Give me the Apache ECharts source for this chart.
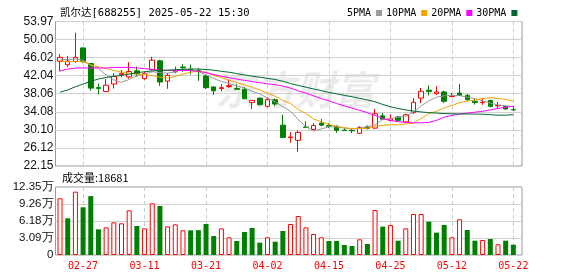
<!DOCTYPE html>
<html><head><meta charset="utf-8">
<script src="https://cdn.jsdelivr.net/npm/echarts@6/dist/echarts.min.js"></script>
<style>html,body{margin:0;padding:0;background:#fff}#c{width:578px;height:276px}</style>
</head><body><div id="c"></div>
<script>
// ---------- data ----------
const dates = ['02-24','02-25','02-26','02-27','02-28','03-03','03-04','03-05','03-06','03-07',
  '03-10','03-11','03-12','03-13','03-14','03-17','03-18','03-19','03-20','03-21',
  '03-24','03-25','03-26','03-27','03-28','03-31','04-01','04-02','04-03','04-07',
  '04-08','04-09','04-10','04-11','04-14','04-15','04-16','04-17','04-18','04-21',
  '04-22','04-23','04-24','04-25','04-28','04-29','04-30','05-06','05-07','05-08',
  '05-09','05-12','05-13','05-14','05-15','05-16','05-19','05-20','05-21','05-22'];
const openP  = [45.21,44.45,45.15,48.15,44.7,39.45,38.55,40.2,42.25,41.75,
  43.1,41.4,43.4,45.3,40.85,42.9,43.95,43.4,43.15,41.95,
  39.55,39.2,39.65,39.2,39.0,36.15,37.1,35.3,36.75,31.15,
  28.4,27.8,30.75,30.2,31.6,31.05,30.9,30.05,30.0,29.35,
  30.8,30.5,33.2,32.15,32.95,31.85,33.95,37.1,38.85,38.1,
  38.45,37.45,38.2,37.7,36.4,36.1,36.55,35.4,35.3,34.6];
const closeP = [46.09,45.25,46.08,45.1,39.3,39.2,39.95,41.85,42.55,42.95,
  42.45,42.55,45.45,40.65,42.1,43.1,43.8,43.2,43.0,39.4,
  38.7,39.4,39.85,39.05,36.95,36.6,35.65,36.75,35.8,28.45,
  28.55,29.55,30.65,31.05,31.15,30.9,30.0,29.95,29.9,30.65,
  30.4,33.65,32.45,32.5,32.2,33.45,36.2,38.6,38.55,38.45,
  36.4,37.65,37.7,36.75,36.15,36.2,35.3,35.5,34.7,34.5];
const lowP   = [42.99,43.95,44.85,44.9,38.75,37.9,38.5,39.2,41.7,41.4,
  41.8,41.15,43.15,39.8,39.15,42.6,42.9,42.3,40.9,39.1,
  37.8,38.6,39.35,38.95,36.9,34.7,35.5,35.05,35.3,28.4,
  27.3,25.3,30.6,30.15,30.9,30.5,29.45,29.9,29.4,29.2,
  30.2,30.3,32.35,32.0,32.05,31.6,33.6,36.0,37.7,37.85,
  36.0,37.25,37.7,36.55,35.65,35.6,35.05,34.75,34.6,34.2];
const highP  = [46.81,46.4,51.5,48.2,44.9,40.3,41.3,42.6,43.3,45.0,
  44.05,42.85,46.2,45.55,42.6,44.0,44.6,44.5,43.7,42.4,
  39.7,40.2,41.1,40.2,39.6,36.6,37.25,37.25,37.0,33.4,
  29.6,29.95,32.0,31.6,32.5,31.6,31.1,30.5,30.5,30.9,
  31.1,34.7,33.8,33.45,33.2,33.65,37.1,39.35,39.9,39.7,
  38.75,38.25,40.2,38.0,37.1,37.1,36.75,36.25,35.3,35.3];
const ma5  = [45.65,45.6,45.75,45.45,44.3,43.6,42.2,41.1,40.6,41.2,
  42.0,42.4,42.9,42.7,42.6,42.9,43.5,43.3,42.9,42.2,
  41.4,40.8,40.3,39.8,39.3,38.6,38.0,37.1,36.3,35.2,
  34.2,32.4,30.8,29.85,30.3,30.8,30.8,30.5,30.3,30.5,
  30.8,31.2,32.4,32.6,32.9,33.1,34.0,35.4,36.5,37.3,
  37.6,37.7,37.65,37.3,37.0,36.5,36.0,35.6,35.4,35.2];
const ma10 = [45.3,45.1,45.2,45.15,44.45,44.0,43.6,43.2,42.85,42.6,
  42.4,42.25,42.1,41.7,41.5,41.9,42.4,42.8,43.0,42.8,
  42.1,41.6,41.1,40.5,40.0,39.5,38.9,38.2,37.5,36.6,
  35.9,34.6,33.7,32.5,31.9,31.3,30.9,30.6,30.4,30.35,
  30.45,30.9,31.1,31.25,31.2,31.4,31.6,32.6,33.7,34.2,
  34.9,35.5,36.1,36.4,36.7,37.0,37.2,37.0,36.85,36.35];
const ma20 = [43.1,43.5,43.7,43.75,43.75,43.75,43.75,43.85,43.85,43.85,
  43.75,43.6,43.4,43.25,43.2,43.2,43.2,43.15,43.0,42.7,
  42.3,41.9,41.6,41.3,41.0,40.75,40.5,40.25,40.05,39.75,
  39.3,38.7,38.2,37.6,37.0,36.5,35.9,35.4,34.9,34.4,
  33.9,33.3,32.6,32.2,31.9,31.75,31.65,31.65,31.75,32.2,
  32.9,33.3,33.6,33.8,34.0,34.2,34.5,34.8,35.1,35.3];
const ma30 = [38.4,38.9,39.6,40.2,40.8,41.3,41.65,41.9,42.1,42.4,
  42.7,42.9,43.1,43.2,43.25,43.35,43.45,43.5,43.5,43.4,
  43.25,43.0,42.8,42.5,42.2,41.95,41.7,41.45,41.2,40.8,
  40.3,39.9,39.5,39.1,38.75,38.35,38.05,37.7,37.4,37.05,
  36.7,36.3,35.7,35.2,34.8,34.5,34.25,34.05,33.9,33.8,
  33.7,33.65,33.6,33.6,33.6,33.55,33.45,33.35,33.35,33.45];
const volume = [103000,66600,115000,86600,107000,46600,50200,59300,57500,81100,
  52700,48400,93800,89000,52000,55700,44800,44800,45100,56300,
  34500,48400,32100,25400,41800,49000,22400,32100,24200,43600,
  56300,70800,50200,38100,32100,25400,25400,18200,16300,28500,
  20000,81700,51500,54500,26000,48400,74500,74500,60500,40600,
  54500,32100,64800,45400,26000,27200,29100,19400,26000,18681];
const priceTicks = ['22.15','26.12','30.10','34.08','38.06','42.04','46.02','50.00','53.97'];
const volTicks = ['0','3.09万','6.18万','9.26万','12.35万'];
const maNames = ['5PMA','10PMA','20PMA','30PMA'];
const titleText = '凯尔达[688255] 2025-05-22 15:30';

// ---------- layout / style ----------
const priceMin = parseFloat(priceTicks[0]), priceMax = parseFloat(priceTicks[priceTicks.length-1]);
const priceStep = (priceMax - priceMin) / (priceTicks.length - 1);
const priceTickValues = priceTicks.map((t, k) => priceMin + k * priceStep);
const volStep = 30875, volMax = volStep * (volTicks.length - 1);
const RED = '#ff0000', GREEN = '#008000';
const maColors = ['#999999', '#f5a300', '#ff00ff', '#006a30'];
const FL = 55.5, FW = 466.5, DL = 56.2, DW = 461;
const PT = 21.5, PH = 144.5, VT = 187, VH = 68;
const mono = '"DejaVu Sans Mono", "Noto Sans CJK SC", monospace';
const labelInterval = (i) => (i - 3) % 8 === 0;

const candleData = openP.map((o, i) => [o, closeP[i], lowP[i], highP[i]]);
const volData = volume.map((v, i) => {
  const up = i === 0 ? true : closeP[i] >= closeP[i-1];
  return { value: v, itemStyle: up ? { color: '#ffffff', borderColor: RED, borderWidth: 1 } : { color: GREEN, borderColor: GREEN, borderWidth: 0 } };
});

const chart = echarts.init(document.getElementById('c'), null, { renderer: 'canvas' });
const hiddenX = (g) => ({ gridIndex: g, type: 'value', min: 0, max: 1, show: false });
const catX = (g, showLabel) => ({
  gridIndex: g, type: 'category', data: dates, boundaryGap: true,
  axisLine: { show: false }, axisTick: { show: false },
  axisLabel: { show: showLabel, interval: labelInterval, color: RED, fontSize: 10, fontFamily: mono, margin: 6 },
  splitLine: { show: true, alignWithLabel: true, interval: labelInterval, lineStyle: { color: '#cccccc', type: [4, 3], width: 1 } }
});

chart.setOption({
  animation: false,
  backgroundColor: '#ffffff',
  title: [
    { text: titleText, left: 55, top: 3, textStyle: { fontSize: 10.5, fontWeight: 'normal', color: '#000', fontFamily: mono } },
    { text: '成交量:' + volume[volume.length-1], left: 57, top: 167, textStyle: { fontSize: 11, fontWeight: 'normal', color: '#000', fontFamily: '"Noto Sans CJK SC", sans-serif' } }
  ],
  legend: {
    left: 342, top: 3, itemWidth: 6, itemHeight: 6, itemGap: 4, icon: 'rect', align: 'right',
    textStyle: { fontSize: 10, color: '#000', fontFamily: mono }, data: maNames
  },
  graphic: [{
    type: 'text', left: 215, top: 70, z: 0, silent: true,
    style: { text: '东方财富', font: 'italic bold 40px "Noto Sans CJK SC"', fill: 'rgba(0,0,0,0.08)' }
  }],
  grid: [
    { left: FL, top: PT, width: FW, height: PH, show: true, borderColor: '#999999', borderWidth: 1, backgroundColor: 'transparent' },
    { left: DL, top: PT, width: DW, height: PH },
    { left: FL, top: VT, width: FW, height: VH, show: true, borderColor: '#999999', borderWidth: 1, backgroundColor: 'transparent' },
    { left: DL, top: VT, width: DW, height: VH }
  ],
  xAxis: [hiddenX(0), catX(1, false), hiddenX(2), catX(3, true)],
  yAxis: [
    { gridIndex: 0, type: 'value', min: priceMin, max: priceMax,
      axisLine: { show: false }, axisTick: { show: false, customValues: priceTickValues },
      axisLabel: { customValues: priceTickValues, margin: 2, fontSize: 12, color: '#111', fontFamily: '"Liberation Sans", Arial',
        formatter: (v) => priceTicks[Math.round((v - priceMin) / priceStep)] || '' },
      splitLine: { show: true, lineStyle: { color: '#d0d0d0', width: 1 } } },
    { gridIndex: 1, type: 'value', min: priceMin, max: priceMax, show: false, splitLine: { show: false } },
    { gridIndex: 2, type: 'value', min: 0, max: volMax, interval: volStep,
      axisLine: { show: false }, axisTick: { show: false },
      axisLabel: { margin: 2, fontSize: 11.5, color: '#111', fontFamily: '"Liberation Sans", Arial',
        formatter: (v) => volTicks[Math.round(v / volStep)] || '' },
      splitLine: { show: true, lineStyle: { color: '#d0d0d0', width: 1 } } },
    { gridIndex: 3, type: 'value', min: 0, max: volMax, show: false, splitLine: { show: false } }
  ],
  series: [
    { type: 'candlestick', name: 'K', xAxisIndex: 1, yAxisIndex: 1, data: candleData, barWidth: 5,
      itemStyle: { color: '#ffffff', color0: GREEN, borderColor: RED, borderColor0: GREEN, borderWidth: 1 } },
    ...[ma5, ma10, ma20, ma30].map((arr, k) => ({
      type: 'line', name: maNames[k], xAxisIndex: 1, yAxisIndex: 1, data: arr, color: maColors[k],
      symbol: 'none', smooth: false, lineStyle: { width: 1, color: maColors[k] }, z: 3
    })),
    { type: 'bar', name: 'VOL', xAxisIndex: 3, yAxisIndex: 3, data: volData, barWidth: 5 }
  ]
});
</script></body></html>
